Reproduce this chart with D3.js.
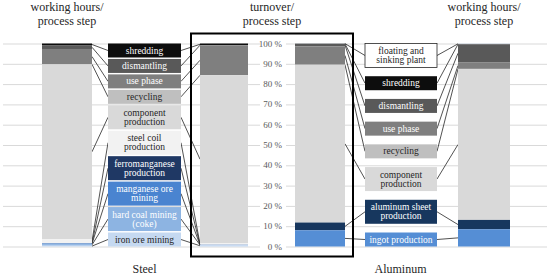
<!DOCTYPE html>
<html><head><meta charset="utf-8">
<script src="https://cdn.jsdelivr.net/npm/d3@7"></script>
<style>body{margin:0;background:#fff} svg{display:block} svg text{font-family:"Liberation Serif","DejaVu Serif","Noto Serif","Times New Roman",Times,Tinos,FreeSerif,Georgia,serif}</style>
</head><body><svg id="c" width="550" height="278"></svg>
<script>
// ---------- DATA (top-down order of process steps) ----------
const steelSteps = ["shredding","dismantling","use phase","recycling","component production","steel coil production","ferromanganese production","manganese ore mining","hard coal mining (coke)","iron ore mining"];
const steelLabels = [["shredding"],["dismantling"],["use phase"],["recycling"],["component","production"],["steel coil","production"],["ferromanganese","production"],["manganese ore","mining"],["hard coal mining","(coke)"],["iron ore mining"]];
const steelHours    = [1.0, 1.7, 7.5, 0.1, 86.1, 2.0, 0.1, 0.3, 0.8, 0.4];
const steelTurnover = [0.8, 0.1, 14.7, 0.1, 82.6, 0.8, 0.05, 0.05, 0.1, 0.7];

const aluSteps = ["floating and sinking plant","shredding","dismantling","use phase","recycling","component production","aluminum sheet production","ingot production"];
const aluLabels = [["floating and","sinking plant"],["shredding"],["dismantling"],["use phase"],["recycling"],["component","production"],["aluminum sheet","production"],["ingot production"]];
const aluTurnover = [0.1, 0.1, 1.2, 9.0, 0.2, 77.6, 3.8, 8.0];
const aluHours    = [0.3, 0.1, 8.8, 3.3, 0.1, 74.3, 4.6, 8.5];

const tickValues = [0,10,20,30,40,50,60,70,80,90,100];
const headTitles = [["working hours/","process step"],["turnover/","process step"],["working hours/","process step"]];
const groupNames = ["Steel","Aluminum"];

// ---------- STYLES ----------
const stepColor = {
  "floating and sinking plant":"#ffffff",
  "shredding":"#0d0d0d","dismantling":"#595959","use phase":"#7f7f7f","recycling":"#bfbfbf",
  "component production":"#d9d9d9","steel coil production":"#f2f2f2",
  "ferromanganese production":"#1f3864","manganese ore mining":"#4a84d0",
  "hard coal mining (coke)":"#8db4e2","iron ore mining":"#c5d9f1",
  "aluminum sheet production":"#17375e","ingot production":"#558ed5"
};
const barSegColor = s => s==="floating and sinking plant" ? "#c9d3df" : stepColor[s];

// ---------- LAYOUT ----------
const y = d3.scaleLinear().domain([0,100]).range([246.5, 43.5]);
const col = {bar1:[42,92], box1:[108,181], bar2:[200,248], bar3:[295,345], box2:[365,437], bar4:[458,510]};

const svg = d3.select("#c");

svg.append("g").selectAll("line").data(tickValues).join("line")
  .attr("x1",3).attr("x2",547)
  .attr("y1",d=>y(d)+0.5).attr("y2",d=>y(d)+0.5)
  .attr("stroke","#d9d9d9").attr("stroke-width",1);

function stack(steps, values){
  let acc = 0;
  const segs = steps.map((s,i)=>({step:s, v:values[i]})).reverse();
  segs.forEach(d=>{ d.y0 = acc; acc += d.v; d.y1 = acc; d.mid = (d.y0+d.y1)/2; });
  return segs.reverse();
}
function drawBar(segs, xr){
  svg.append("g").selectAll("rect").data(segs).join("rect")
    .attr("x",xr[0]).attr("width",xr[1]-xr[0])
    .attr("y",d=>y(d.y1)).attr("height",d=>Math.max(0,y(d.y0)-y(d.y1)))
    .attr("fill",d=>barSegColor(d.step));
}
function boxLayout(labels){
  const hs = labels.map(l=> l.length===2 ? 24 : 14);
  const total = y(0)-y(100);
  const gap = (total - d3.sum(hs))/(labels.length-1);
  let cur = y(100);
  return hs.map(h=>{ const b={y:cur,h:h,mid:cur+h/2}; cur += h+gap; return b; });
}

const sH = stack(steelSteps, steelHours), sT = stack(steelSteps, steelTurnover);
const aT = stack(aluSteps, aluTurnover), aH = stack(aluSteps, aluHours);
const sB = boxLayout(steelLabels), aB = boxLayout(aluLabels);

function connectors(segs, boxes, xBar, xBox){
  svg.append("g").selectAll("line").data(segs).join("line")
    .attr("x1",xBar).attr("y1",d=>y(d.mid))
    .attr("x2",xBox).attr("y2",(d,i)=>boxes[i].mid)
    .attr("stroke","#262626").attr("stroke-width",0.8);
}
connectors(sH, sB, col.bar1[1], col.box1[0]);
connectors(sT, sB, col.bar2[0], col.box1[1]);
connectors(aT, aB, col.bar3[1], col.box2[0]);
connectors(aH, aB, col.bar4[0], col.box2[1]);

drawBar(sH, col.bar1); drawBar(sT, col.bar2); drawBar(aT, col.bar3); drawBar(aH, col.bar4);

function drawBoxes(steps, labels, boxes, xr){
  const g = svg.append("g").selectAll("g").data(steps).join("g");
  g.append("rect").attr("x",xr[0]).attr("width",xr[1]-xr[0])
    .attr("y",(d,i)=>boxes[i].y).attr("height",(d,i)=>boxes[i].h)
    .attr("fill",d=>stepColor[d])
    .attr("stroke",d=>d==="floating and sinking plant"?"#262626":"none").attr("stroke-width",0.8);
  g.each(function(d,i){
    const lines = labels[i], b = boxes[i];
    const fill = d3.lab(stepColor[d]).l < 75 ? "#ffffff" : "#262626";
    d3.select(this).selectAll("text").data(lines).join("text")
      .attr("x",(xr[0]+xr[1])/2)
      .attr("y",(t,j)=> b.mid + (lines.length===2 ? (j===0?-4.5:4.5) : 0) + 3)
      .attr("text-anchor","middle").attr("font-size",9.5)
      .attr("fill",fill).text(t=>t);
  });
}
drawBoxes(steelSteps, steelLabels, sB, col.box1);
drawBoxes(aluSteps, aluLabels, aB, col.box2);

const tg = svg.append("g").selectAll("g").data(tickValues).join("g");
tg.append("rect").attr("x",260).attr("width",26).attr("y",d=>y(d)-5).attr("height",10).attr("fill","#fff");
tg.append("text").attr("x",282).attr("y",d=>y(d)+3).attr("text-anchor","end")
  .attr("font-size",9).attr("fill","#595959").text(d=>d+" %");

svg.append("rect").attr("x",191).attr("y",33.5).attr("width",162).attr("height",223)
  .attr("fill","none").attr("stroke","#000").attr("stroke-width",2);

const headX = [67, 272, 484];
headTitles.forEach((lines,i)=>{
  svg.append("g").selectAll("text").data(lines).join("text")
    .attr("x",headX[i]).attr("y",(t,j)=>11+j*13.5).attr("text-anchor","middle")
    .attr("font-size",12).attr("fill","#262626").text(t=>t);
});
svg.selectAll("text.grp").data(groupNames).join("text").attr("class","grp")
  .attr("x",(d,i)=>[144.5,400.5][i]).attr("y",273).attr("text-anchor","middle")
  .attr("font-size",12).attr("fill","#262626").text(d=>d);
</script></body></html>
